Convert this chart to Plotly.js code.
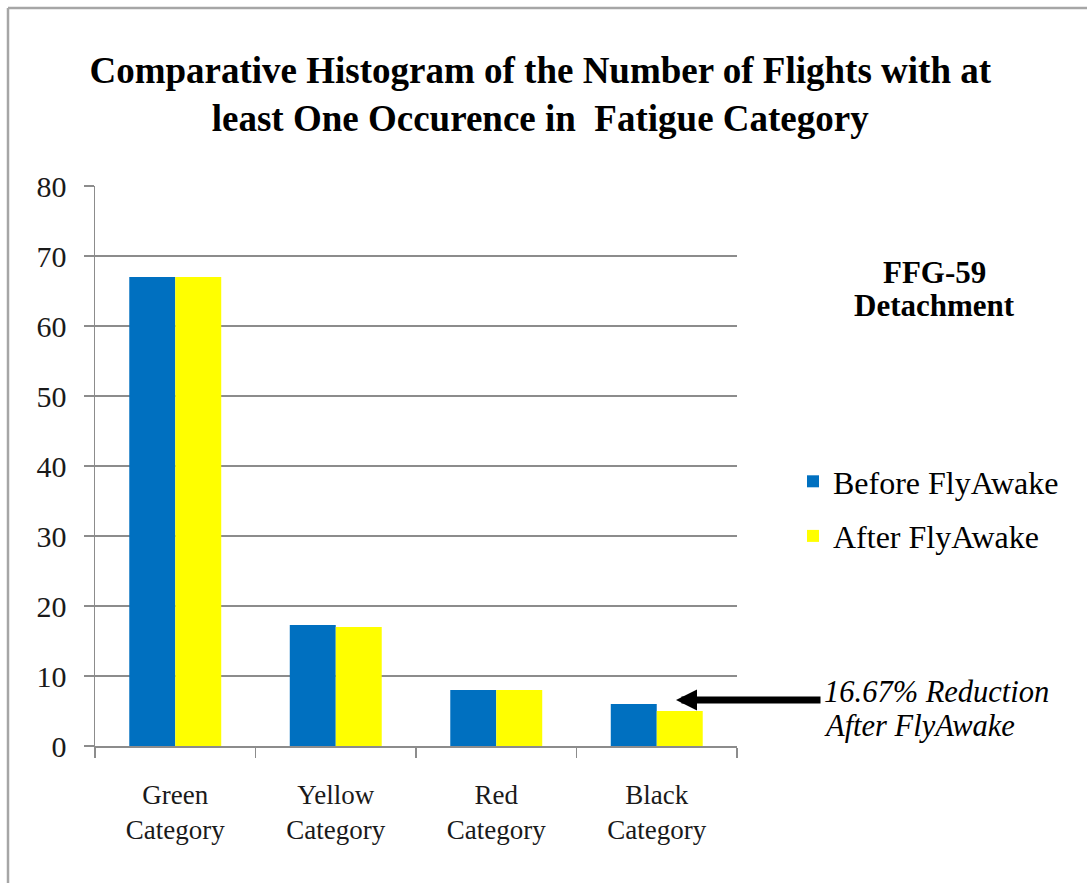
<!DOCTYPE html>
<html>
<head>
<meta charset="utf-8">
<script src="https://cdn.plot.ly/plotly-3.0.1.min.js"></script>
<style>
  html, body { margin: 0; padding: 0; background: #fff; }
  #chart { width: 1087px; height: 883px; }
</style>
</head>
<body>
<div id="chart"></div>
<script>
// Fatigue categories and flight counts before / after FlyAwake
const categories = ["Green<br>Category", "Yellow<br>Category", "Red<br>Category", "Black<br>Category"];
const beforeFlyAwake = [67, 17.3, 8, 6];
const afterFlyAwake = [67, 17, 8, 5];
const seriesNames = ["Before FlyAwake", "After FlyAwake"];
const yTicks = [0, 10, 20, 30, 40, 50, 60, 70, 80];

const serif = "'Liberation Serif', 'Times New Roman', serif";
const gridGray = "#8c8c8c";

const traces = [
  {
    type: "bar", name: seriesNames[0], x: categories, y: beforeFlyAwake,
    marker: { color: "#0070c0" }, legendgroup: "a", hoverinfo: "y"
  },
  {
    type: "bar", name: seriesNames[1], x: categories, y: afterFlyAwake,
    marker: { color: "#ffff00" }, legendgroup: "b", hoverinfo: "y"
  }
];

// plot area: 642 x 560 px starting at (95, 186)
const px = x => (x - 95) / 642;
const py = y => (746 - y) / 560;

const layout = {
  width: 1087, height: 883,
  margin: { l: 95, r: 350, t: 186, b: 137 },
  paper_bgcolor: "#ffffff", plot_bgcolor: "#ffffff",
  barmode: "group", bargap: 0.427, bargroupgap: 0,
  title: {
    text: "<b>Comparative Histogram of the Number of Flights with at<br>least One Occurence in  Fatigue Category</b>",
    font: { family: serif, size: 37, color: "#000" },
    xref: "container", x: 0.497, yref: "container", y: 0.906, yanchor: "top"
  },
  xaxis: {
    type: "category",
    showline: true, linecolor: gridGray, linewidth: 1.5,
    ticks: "outside", tickson: "boundaries", ticklen: 10, tickcolor: gridGray, tickwidth: 1.5,
    tickfont: { family: serif, size: 27, color: "#1a1a1a" },
    ticklabelstandoff: 24,
    showgrid: false, zeroline: false
  },
  yaxis: {
    range: [0, 80], tickvals: yTicks, ticktext: yTicks.map(String),
    showline: true, linecolor: gridGray, linewidth: 1.5,
    ticks: "outside", ticklen: 10, tickcolor: gridGray, tickwidth: 1.5,
    showgrid: true, gridcolor: gridGray, gridwidth: 1.5,
    zeroline: false,
    tickfont: { family: serif, size: 30, color: "#1a1a1a" },
    ticklabelstandoff: 11
  },
  showlegend: true,
  legend: {
    x: px(793), xanchor: "left", y: py(454), yanchor: "top",
    font: { family: serif, size: 32, color: "#000" },
    traceorder: "grouped", tracegroupgap: 10,
    itemwidth: 30, bgcolor: "rgba(0,0,0,0)"
  },
  annotations: [
    {
      xref: "paper", yref: "paper", x: px(934), y: py(272), xanchor: "center", yanchor: "middle",
      text: "<b>FFG-59</b>", showarrow: false,
      font: { family: serif, size: 31, color: "#000" }
    },
    {
      xref: "paper", yref: "paper", x: px(934), y: py(305), xanchor: "center", yanchor: "middle",
      text: "<b>Detachment</b>", showarrow: false,
      font: { family: serif, size: 31, color: "#000" }
    },
    {
      xref: "paper", yref: "paper", x: px(676), y: py(700),
      text: "", showarrow: true, axref: "pixel", ayref: "pixel",
      ax: 146, ay: 0, arrowcolor: "#000", arrowwidth: 7, arrowhead: 2, arrowsize: 0.6,
      standoff: 0, startstandoff: 0
    },
    {
      xref: "paper", yref: "paper", x: px(822), y: py(692), xanchor: "left", yanchor: "middle",
      text: "<i>16.67% Reduction</i>", showarrow: false,
      font: { family: serif, size: 30.5, color: "#000" }
    },
    {
      xref: "paper", yref: "paper", x: px(822), y: py(726), xanchor: "left", yanchor: "middle",
      text: "<i>After FlyAwake</i>", showarrow: false,
      font: { family: serif, size: 30.5, color: "#000" }
    }
  ],
  shapes: [
    // outer chart frame (top and left edges)
    { type: "line", xref: "paper", yref: "paper",
      x0: px(8), x1: px(1087), y0: py(8), y1: py(8),
      line: { color: "#a6a6a6", width: 2.5 } },
    { type: "line", xref: "paper", yref: "paper",
      x0: px(8), x1: px(8), y0: py(8), y1: py(883),
      line: { color: "#a6a6a6", width: 2.5 } }
  ]
};

Plotly.newPlot("chart", traces, layout, { displayModeBar: false, staticPlot: true });
</script>
</body>
</html>
